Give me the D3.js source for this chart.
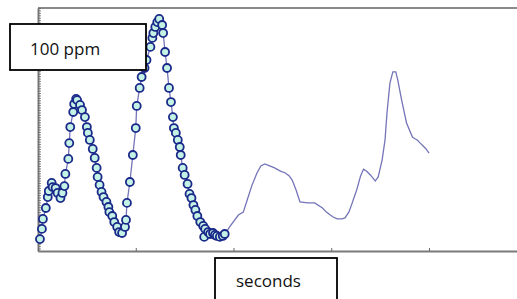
<!DOCTYPE html>
<html>
<head>
<meta charset="utf-8">
<script src="https://cdn.jsdelivr.net/npm/d3@7"></script>
<style>
  body { margin: 0; background: #fff; }
  svg { display: block; font-family: "Open Sans", sans-serif; }
</style>
</head>
<body>
<div class="container"></div>
<script>
// sampled part of the signal (drawn with circle markers)
const sampleTime = [0.2, 0.4, 0.5, 0.8, 1.0, 1.1, 1.4, 1.5, 1.8, 2.0, 2.3, 2.5, 2.7, 2.8, 3.1, 3.2, 3.3, 3.6, 3.7, 3.9,
  4.0, 4.3, 4.5, 4.8, 5.0, 5.1, 5.3, 5.6, 5.8, 6.0, 6.1, 6.3, 6.5, 6.7, 7.0, 7.2, 7.3, 7.6, 7.8, 8.1,
  8.3, 8.6, 8.9, 9.0, 9.1, 9.4, 9.7, 10.0, 10.1, 10.4, 10.6, 10.9, 11.1, 11.5, 11.7, 11.8, 12.0, 12.2, 12.4, 12.7,
  12.8, 13.0, 13.2, 13.4, 13.6, 13.8, 13.9, 14.1, 14.3, 14.5, 14.6, 14.8, 15.0, 15.3, 15.5, 15.7, 15.9, 16.1, 16.3, 16.6,
  16.9, 17.0, 17.1, 17.4, 17.6, 17.9, 18.1, 18.3, 18.6, 18.9, 19.1]
const sampleValue = [4.9, 9.1, 13.2, 17.7, 22.2, 24.7, 28.0, 26.3, 25.9, 23.9, 21.8, 23.9, 26.7, 31.7, 37.9, 44.4, 51.0, 57.2, 60.5, 62.6,
  62.1, 60.1, 58.0, 55.1, 51.0, 48.6, 45.7, 42.0, 38.3, 34.2, 30.5, 27.2, 24.3, 22.2, 20.2, 18.1, 16.0, 14.4, 11.9, 9.9,
  7.8, 7.4, 9.9, 12.8, 19.8, 28.4, 39.5, 50.6, 59.7, 67.1, 71.6, 75.3, 78.6, 84.0, 87.7, 89.7, 92.2, 94.2, 95.5, 93.0,
  89.7, 81.9, 75.3, 67.1, 61.3, 55.1, 50.6, 48.6, 45.7, 42.8, 39.5, 34.2, 31.3, 27.6, 23.5, 21.8, 18.9, 16.9, 14.4, 11.9,
  10.3, 5.8, 9.1, 7.8, 7.0, 7.4, 6.6, 6.2, 5.8, 6.2, 7.0]

// continuous trace afterwards (line only)
const traceTime = [19.2, 19.6, 20.5, 21.0, 21.4, 21.9, 22.4, 22.8, 23.2, 23.7, 24.2, 24.8, 25.3, 25.7, 26.0, 26.4, 26.8, 27.6, 28.3, 29.1,
  29.5, 29.9, 30.2, 30.6, 31.1, 31.4, 31.8, 32.1, 32.6, 33.0, 33.3, 33.6, 34.0, 34.5, 34.8, 35.2, 35.5, 35.7, 36.0, 36.3,
  36.6, 36.8, 37.2, 37.7, 38.3, 38.6, 38.8, 39.1, 39.4, 39.7, 40.0]
const traceValue = [7.4, 9.9, 14.8, 16.0, 21.0, 27.2, 32.1, 35.0, 35.8, 35.0, 34.2, 32.9, 32.1, 30.9, 29.2, 25.1, 20.2, 19.8, 19.8, 17.7,
  16.0, 14.8, 14.0, 13.2, 13.2, 13.6, 16.0, 19.3, 25.1, 30.9, 33.7, 32.9, 31.3, 28.8, 30.5, 37.4, 45.7, 56.8, 69.1, 73.7,
  73.7, 70.4, 62.1, 52.7, 46.9, 46.1, 45.7, 44.4, 43.2, 42.0, 40.3]

const xTicks = [0, 10, 20, 30, 40]
const yLabel = '100 ppm'
const xLabel = 'seconds'

const W = 517, H = 299
const x = d3.scaleLinear().domain([0, 49]).range([38, 517])
const y = d3.scaleLinear().domain([0, 100]).range([251, 8])

const svg = d3.select('.container').append('svg')
  .attr('width', W)
  .attr('height', H)

// frame top line
svg.append('line')
  .attr('x1', x(0)).attr('x2', W)
  .attr('y1', y(100)).attr('y2', y(100))
  .attr('stroke', '#8a8a8a').attr('stroke-width', 2)

// left axis with dense inward ticks
const yAxis = svg.append('g')
  .attr('transform', `translate(${x(0)},0)`)
  .call(d3.axisRight(y).tickValues(d3.range(0, 101, 1)).tickSize(3).tickSizeOuter(0).tickFormat(''))
yAxis.select('.domain').attr('stroke', '#7a7a7a').attr('stroke-width', 2)
yAxis.selectAll('.tick line').attr('stroke', '#666').attr('stroke-width', 0.8)

// bottom axis
const xAxis = svg.append('g')
  .attr('transform', `translate(0,${y(0)})`)
  .call(d3.axisTop(x).tickValues(xTicks).tickSize(3).tickSizeOuter(0).tickFormat(''))
xAxis.select('.domain').attr('stroke', '#7a7a7a').attr('stroke-width', 2)
xAxis.selectAll('.tick line').attr('stroke', '#666')

const samples = sampleTime.map((t, i) => ({t: t, v: sampleValue[i]}))
const trace = traceTime.map((t, i) => ({t: t, v: traceValue[i]}))

const line = d3.line().x(d => x(d.t)).y(d => y(d.v))

svg.append('path')
  .datum(samples.concat(trace))
  .attr('fill', 'none')
  .attr('stroke', '#7474b8')
  .attr('stroke-width', 1.3)
  .attr('d', line)

svg.selectAll('.dot')
  .data(samples)
  .enter()
  .append('circle')
  .attr('class', 'dot')
  .attr('cx', d => x(d.t))
  .attr('cy', d => y(d.v))
  .attr('r', 4)
  .attr('fill', '#c4f2e4')
  .attr('stroke', '#1b2a8a')
  .attr('stroke-width', 1.8)

// label boxes
svg.append('rect')
  .attr('x', 10).attr('y', 24).attr('width', 136).attr('height', 46)
  .attr('fill', '#fff').attr('stroke', '#000').attr('stroke-width', 1.8)
svg.append('text')
  .attr('x', 30).attr('y', 55)
  .style('font-size', '17px')
  .attr('fill', '#111')
  .text(yLabel)

svg.append('rect')
  .attr('x', 215).attr('y', 258).attr('width', 122).attr('height', 50)
  .attr('fill', '#fff').attr('stroke', '#000').attr('stroke-width', 1.8)
svg.append('text')
  .attr('x', 236).attr('y', 287)
  .style('font-size', '17px')
  .attr('fill', '#111')
  .text(xLabel)
</script>
</body>
</html>
